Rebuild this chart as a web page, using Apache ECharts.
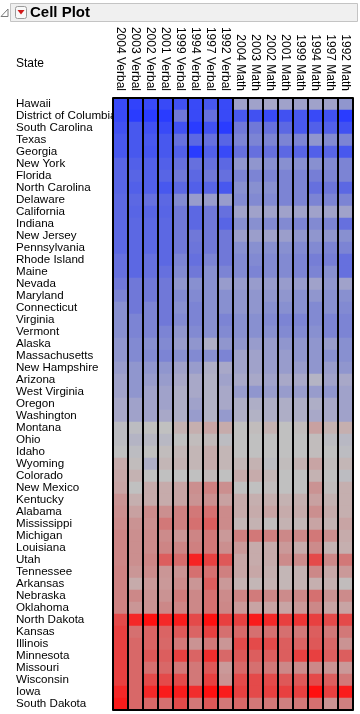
<!DOCTYPE html>
<html><head><meta charset="utf-8">
<script src="https://cdn.jsdelivr.net/npm/echarts@6/dist/echarts.min.js"></script>
<style>html,body{margin:0;padding:0;background:#fff}#c{width:360px;height:714px}</style>
</head><body><div id="c"></div>
<script>
const states = ['Hawaii','District of Columbia','South Carolina','Texas','Georgia','New York','Florida','North Carolina','Delaware','California','Indiana','New Jersey','Pennsylvania','Rhode Island','Maine','Nevada','Maryland','Connecticut','Virginia','Vermont','Alaska','Massachusetts','New Hampshire','Arizona','West Virginia','Oregon','Washington','Montana','Ohio','Idaho','Wyoming','Colorado','New Mexico','Kentucky','Alabama','Mississippi','Michigan','Louisiana','Utah','Tennessee','Arkansas','Nebraska','Oklahoma','North Dakota','Kansas','Illinois','Minnesota','Missouri','Wisconsin','Iowa','South Dakota'];
const columns = ['2004 Verbal','2003 Verbal','2002 Verbal','2001 Verbal','1999 Verbal','1994 Verbal','1997 Verbal','1992 Verbal','2004 Math','2003 Math','2002 Math','2001 Math','1999 Math','1994 Math','1997 Math','1992 Math'];

// cell scores per column (state order above), -1 = lowest (blue), +1 = highest (red)
const verbal2004 = [-0.9,-0.9,-0.85,-0.8,-0.8,-0.72,-0.72,-0.72,-0.7,-0.7,-0.7,-0.7,-0.7,-0.65,-0.65,-0.6,-0.5,-0.4,-0.4,-0.4,-0.35,-0.35,-0.3,-0.25,-0.25,-0.2,-0.2,-0.03,-0.03,0,0.15,0.18,0.2,0.32,0.35,0.38,0.42,0.42,0.42,0.44,0.44,0.44,0.44,0.75,0.8,0.8,0.8,0.8,0.8,0.9,0.95];
const verbal2003 = [-0.95,-1,-0.8,-0.8,-0.8,-0.75,-0.72,-0.75,-0.7,-0.72,-0.7,-0.7,-0.7,-0.7,-0.7,-0.6,-0.6,-0.6,-0.5,-0.5,-0.45,-0.45,-0.35,-0.35,-0.35,-0.25,-0.25,-0.03,-0.1,-0.03,0.03,0.1,0,0.12,0.22,0.32,0.35,0.35,0.35,0.3,0.15,0.4,0.3,0.9,0.55,0.6,0.6,0.6,0.6,0.6,0.6];
const verbal2002 = [-0.9,-1,-0.85,-0.8,-0.82,-0.75,-0.75,-0.75,-0.65,-0.72,-0.7,-0.7,-0.7,-0.65,-0.65,-0.6,-0.6,-0.5,-0.5,-0.5,-0.4,-0.45,-0.35,-0.3,-0.25,-0.25,-0.25,0,-0.07,0,-0.15,0,0.15,0.15,0.38,0.35,0.38,0.38,0.42,0.38,0.28,0.32,0.32,1,0.62,0.62,0.68,0.55,0.75,0.9,0.6];
const verbal2001 = [-0.9,-1,-0.9,-0.8,-0.8,-0.75,-0.72,-0.8,-0.7,-0.72,-0.7,-0.7,-0.7,-0.7,-0.65,-0.6,-0.6,-0.6,-0.6,-0.5,-0.45,-0.5,-0.35,-0.3,-0.25,-0.25,-0.2,0,-0.07,0.03,0.07,0,0.15,0.15,0.35,0.5,0.38,0.42,0.65,0.3,0.28,0.32,0.4,0.9,0.62,0.6,0.65,0.6,0.75,0.95,0.55];
const verbal1999 = [-0.85,-0.6,-0.85,-0.65,-0.75,-0.65,-0.6,-0.7,-0.45,-0.6,-0.6,-0.6,-0.6,-0.5,-0.45,-0.35,-0.45,-0.4,-0.45,-0.35,-0.3,-0.4,-0.25,-0.2,-0.15,-0.15,-0.15,0.1,0,0.07,0.1,0,0.2,0.2,0.45,0.45,0.3,0.42,0.58,0.32,0.38,0.48,0.42,0.95,0.68,0.5,0.8,0.5,0.75,0.95,0.75];
const verbal1994 = [-0.9,-0.9,-1,-0.7,-1,-0.65,-0.7,-0.75,-0.3,-0.7,-0.7,-0.6,-0.62,-0.65,-0.6,-0.4,-0.45,-0.5,-0.5,-0.45,-0.35,-0.45,-0.3,-0.2,-0.2,-0.25,-0.3,0.12,0.03,0.07,0.07,0,0.35,0.32,0.5,0.55,0.42,0.45,0.92,0.55,0.3,0.4,0.4,0.75,0.62,0.32,0.62,0.5,0.5,0.88,0.5];
const verbal1997 = [-0.8,-0.65,-0.85,-0.65,-0.75,-0.65,-0.6,-0.72,-0.3,-0.6,-0.6,-0.6,-0.6,-0.5,-0.4,-0.4,-0.4,-0.4,-0.4,-0.4,-0.15,-0.4,-0.15,-0.12,-0.12,-0.12,-0.12,0.2,0.05,0.15,0.15,0.05,0.45,0.35,0.55,0.65,0.5,0.5,0.8,0.55,0.65,0.55,0.55,1,0.8,0.5,0.88,0.68,0.8,1,0.68];
const verbal1992 = [-0.9,-0.9,-1,-0.72,-0.9,-0.7,-0.65,-0.8,-0.3,-0.65,-0.72,-0.6,-0.6,-0.6,-0.5,-0.3,-0.4,-0.4,-0.5,-0.45,-0.35,-0.5,-0.2,-0.25,-0.2,-0.2,-0.32,0.15,-0.03,0.07,0.07,0,0.35,0.22,0.38,0.38,0.28,0.35,0.68,0.45,0.28,0.38,0.4,0.8,0.55,0.3,0.6,0.28,0.32,0.95,0.5];
const math2004 = [-0.25,-0.8,-0.6,-0.5,-0.65,-0.35,-0.5,-0.4,-0.45,-0.25,-0.4,-0.28,-0.4,-0.45,-0.45,-0.3,-0.35,-0.35,-0.4,-0.4,-0.35,-0.25,-0.25,-0.2,-0.3,-0.15,-0.15,0,0,0,0.07,0.15,0,0.15,0.15,0.07,0.45,0.28,0.18,0.18,0.1,0.42,0.28,0.8,0.6,0.75,0.68,0.6,0.75,0.8,0.6];
const math2003 = [-0.25,-0.85,-0.6,-0.5,-0.65,-0.35,-0.5,-0.4,-0.45,-0.25,-0.4,-0.28,-0.4,-0.45,-0.5,-0.3,-0.35,-0.35,-0.4,-0.4,-0.3,-0.25,-0.25,-0.2,-0.35,-0.15,-0.12,0.03,0,0,0.1,0.15,0,0.12,0.15,0.1,0.5,0.15,0.15,0.18,0.07,0.48,0.2,0.95,0.55,0.75,0.65,0.55,0.75,0.75,0.5];
const math2002 = [-0.2,-0.9,-0.65,-0.5,-0.65,-0.4,-0.5,-0.4,-0.45,-0.25,-0.45,-0.25,-0.4,-0.45,-0.45,-0.3,-0.35,-0.4,-0.45,-0.4,-0.3,-0.3,-0.3,-0.25,-0.3,-0.15,-0.15,0.1,0,0,-0.03,0.07,0.03,0.12,0.2,0.03,0.45,0.15,0.15,0.12,0.1,0.4,0.2,0.9,0.55,0.75,0.65,0.5,0.75,0.8,0.5];
const math2001 = [-0.25,-0.85,-0.7,-0.5,-0.7,-0.4,-0.5,-0.5,-0.5,-0.25,-0.45,-0.28,-0.4,-0.45,-0.45,-0.3,-0.35,-0.4,-0.5,-0.45,-0.35,-0.3,-0.3,-0.2,-0.3,-0.15,-0.15,0,0,0,0.03,0,0,0.1,0.15,0.1,0.4,0.28,0.38,0.07,0.07,0.38,0.2,0.8,0.55,0.65,0.65,0.4,0.68,0.8,0.45];
const math1999 = [-0.25,-0.8,-0.8,-0.5,-0.72,-0.4,-0.5,-0.5,-0.5,-0.25,-0.5,-0.35,-0.45,-0.5,-0.5,-0.3,-0.4,-0.4,-0.5,-0.45,-0.35,-0.35,-0.3,-0.2,-0.3,-0.15,-0.15,0.03,0,0,0.1,0,0,0.12,0.15,0.07,0.4,0.15,0.38,0.1,0.1,0.4,0.28,0.85,0.5,0.62,0.8,0.38,0.68,0.8,0.5];
const math1994 = [-0.25,-0.9,-0.75,-0.35,-0.75,-0.4,-0.55,-0.65,-0.5,-0.25,-0.45,-0.35,-0.45,-0.55,-0.5,-0.25,-0.35,-0.45,-0.45,-0.4,-0.35,-0.35,-0.35,-0.1,-0.3,-0.15,-0.2,0.22,0.03,0.03,0.2,0.1,0.32,0.22,0.35,0.2,0.5,0.38,0.75,0.4,0.12,0.55,0.4,0.8,0.65,0.68,0.8,0.4,0.75,1,0.55];
const math1997 = [-0.25,-0.85,-0.75,-0.45,-0.72,-0.45,-0.5,-0.62,-0.5,-0.25,-0.5,-0.35,-0.5,-0.55,-0.4,-0.35,-0.4,-0.4,-0.5,-0.5,-0.3,-0.4,-0.3,-0.25,-0.35,-0.2,-0.2,0.1,-0.03,0,0.03,0,0.03,0.1,0.15,0.1,0.35,0.1,0.4,0.18,0.12,0.32,0.2,0.75,0.5,0.6,0.65,0.32,0.65,0.8,0.32];
const math1992 = [-0.35,-1,-0.85,-0.5,-0.8,-0.5,-0.5,-0.7,-0.5,-0.25,-0.65,-0.4,-0.5,-0.65,-0.65,-0.25,-0.4,-0.45,-0.5,-0.5,-0.4,-0.4,-0.35,-0.2,-0.25,-0.25,-0.25,0.12,-0.07,-0.03,0.07,-0.03,0.12,0.12,0.12,0.2,0.15,0.12,0.5,0.28,0.03,0.38,0.2,0.75,0.5,0.32,0.65,0.28,0.5,0.95,0.45];

const columnValues = [verbal2004, verbal2003, verbal2002, verbal2001, verbal1999, verbal1994, verbal1997, verbal1992,
                      math2004, math2003, math2002, math2001, math1999, math1994, math1997, math1992];
const cells = [];
columnValues.forEach((arr, ci) => arr.forEach((v, si) => cells.push([ci, si, v])));

const FONT = 'Liberation Sans, Arial, sans-serif';
const chart = echarts.init(document.getElementById('c'), null, {renderer: 'canvas'});
chart.setOption({
  animation: false,
  backgroundColor: '#ffffff',
  title: [
    {text: 'Cell Plot', left: 30, top: 5, padding: 0, z: 10,
     textStyle: {fontFamily: FONT, fontSize: 15, fontWeight: 'bold', color: '#000'}},
    {text: 'State', left: 16, top: 58, padding: 0, z: 10,
     textStyle: {fontFamily: FONT, fontSize: 12, fontWeight: 'normal', color: '#000'}}
  ],
  graphic: [
    {type: 'rect', z: 1, shape: {x: 10.5, y: 3.5, width: 347, height: 18},
     style: {fill: '#f0f0f0', stroke: '#c4c4c4', lineWidth: 1}},
    {type: 'rect', z: 2, shape: {x: 15.5, y: 6.5, width: 11, height: 12, r: 2},
     style: {fill: '#f8f8f8', stroke: '#9a9a9a', lineWidth: 1}},
    {type: 'polygon', z: 3, shape: {points: [[17.5, 10], [24.5, 10], [21, 14.5]]},
     style: {fill: '#d01818'}},
    {type: 'polygon', z: 3, shape: {points: [[8, 9], [8, 16.5], [1, 16.5]]},
     style: {fill: '#ffffff', stroke: '#7a7a7a', lineWidth: 1}}
  ],
  grid: {left: 113, right: 7, top: 98, bottom: 4},
  xAxis: [
    {type: 'category', data: columns, position: 'top', z: 5,
     axisLine: {show: true, lineStyle: {color: '#000', width: 2}},
     axisTick: {show: false},
     splitLine: {show: true, interval: 0, lineStyle: {color: '#000', width: 2}},
     axisLabel: {interval: 0, rotate: 90, margin: 7, fontFamily: FONT, fontSize: 12, color: '#000', padding: [5, 0, 0, 0]}},
    {type: 'category', data: columns, position: 'bottom', z: 5,
     axisLine: {show: true, lineStyle: {color: '#000', width: 2}},
     axisTick: {show: false}, axisLabel: {show: false}, splitLine: {show: false}}
  ],
  yAxis: {type: 'category', data: states, inverse: true, z: 0,
    axisLine: {show: false}, axisTick: {show: false}, splitLine: {show: false},
    axisLabel: {interval: 0, align: 'left', margin: 97, fontFamily: FONT, fontSize: 11.6, color: '#000', padding: [4, 0, 0, 0]}},
  visualMap: {type: 'continuous', show: false, dimension: 2, min: -1, max: 1,
    inRange: {color: ['#2a3cff', '#4858ee', '#7078d8', '#8890d0', '#a8a8c8', '#c0c0c0',
                      '#c8a4a4', '#cc8888', '#d86868', '#e84040', '#ff1010']}},
  series: [{type: 'heatmap', xAxisIndex: 0, yAxisIndex: 0, data: cells, z: 2,
    itemStyle: {borderWidth: 0}, emphasis: {disabled: true}, progressive: 0}]
});
</script></body></html>
